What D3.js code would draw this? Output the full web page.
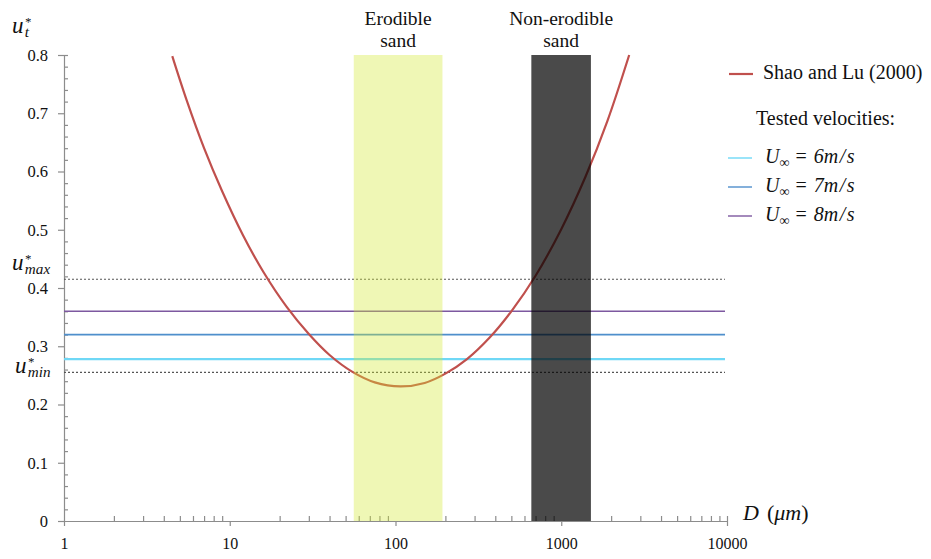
<!DOCTYPE html>
<html>
<head>
<meta charset="utf-8">
<script src="https://cdn.jsdelivr.net/npm/d3@7"></script>
<style>
  body { margin: 0; background: #fff; }
  svg text { font-family: "Liberation Serif", "Times New Roman", serif; fill: #111; }
  .axis path, .axis line { stroke: #8c8c8c; stroke-width: 1.2; }
</style>
</head>
<body>
<div id="chart"></div>
<script>
// Shao and Lu (2000) threshold curve
var diameters = [4.5, 5.5, 7, 9, 12, 16, 22, 30, 40, 55, 75, 107, 150, 200, 270, 370, 500, 700, 1000, 1400, 1900, 2570];
var uStar     = [0.798, 0.722, 0.640, 0.566, 0.491, 0.427, 0.368, 0.321, 0.285, 0.256, 0.238, 0.231, 0.237, 0.253, 0.278, 0.315, 0.360, 0.421, 0.501, 0.591, 0.687, 0.800];

// tested velocities (m/s) and their friction velocity
var velocities = [6, 7, 8];
var velocityU  = [0.278, 0.32, 0.36];
var velocityColors = ["#6fd8f6", "#4f8fcc", "#7d58a0"];

// u*min / u*max limits
var limitNames  = ["min", "max"];
var limitValues = [0.255, 0.415];

// sand bands (µm)
var bandNames = [["Erodible", "sand"], ["Non-erodible", "sand"]];
var bandStart = [56, 660];
var bandEnd   = [192, 1510];

var xMajor = [1, 10, 100, 1000, 10000];
var yMajor = [0, 0.1, 0.2, 0.3, 0.4, 0.5, 0.6, 0.7, 0.8];

var width = 931, height = 559;
var serif = '"Liberation Serif", "Times New Roman", serif';
var svg = d3.select("#chart").append("svg")
    .attr("width", width)
    .attr("height", height)
    .style("font-family", serif);

var x = d3.scaleLog().domain([1, 10000]).range([64, 727]);
var y = d3.scaleLinear().domain([0, 0.8]).range([521, 55]);

// minor tick values
var xMinor = [];
xMajor.slice(0, 4).forEach(function(d) {
    for (var k = 2; k <= 9; k++) xMinor.push(d * k);
});
xMinor.push(10000);
var yMinor = d3.range(0, 41).map(function(i) { return i / 50; })
    .filter(function(v, i) { return i % 5 != 0; });
yMinor.push(0.8);

// ****************** axes ***************************
var xAxis = svg.append("g").attr("class", "axis")
    .attr("transform", "translate(0," + y(0) + ")")
    .call(d3.axisBottom(x).tickValues(xMajor).tickSize(5).tickSizeOuter(0)
        .tickFormat(d3.format("d")));
xAxis.attr("font-family", serif).attr("font-size", 16);
xAxis.selectAll("text").attr("y", 17);

svg.append("g").attr("class", "axis")
    .attr("transform", "translate(0," + y(0) + ")")
    .call(d3.axisTop(x).tickValues(xMinor).tickSize(5).tickFormat(""))
    .select(".domain").remove();

var yAxis = svg.append("g").attr("class", "axis")
    .attr("transform", "translate(" + x(1) + ",0)")
    .call(d3.axisLeft(y).tickValues(yMajor).tickSize(6).tickSizeOuter(0)
        .tickFormat(function(d) { return d === 0 ? "0" : d3.format(".1f")(d); }));
yAxis.attr("font-family", serif).attr("font-size", 16.5);
yAxis.selectAll("text").attr("x", -16);

svg.append("g").attr("class", "axis")
    .attr("transform", "translate(" + x(1) + ",0)")
    .call(d3.axisRight(y).tickValues(yMinor).tickSize(4).tickFormat(""))
    .select(".domain").remove();

// ****************** horizontal lines ***************************
svg.selectAll("line.vel")
    .data(velocityU)
    .enter().append("line")
    .attr("class", "vel")
    .attr("x1", x(1)).attr("x2", 725)
    .attr("y1", function(d) { return y(d); })
    .attr("y2", function(d) { return y(d); })
    .attr("stroke", function(d, i) { return velocityColors[i]; })
    .attr("stroke-width", function(d, i) { return i == 0 ? 2.2 : 1.6; });

svg.selectAll("line.limit")
    .data(limitValues)
    .enter().append("line")
    .attr("class", "limit")
    .attr("x1", x(1)).attr("x2", 725)
    .attr("y1", function(d) { return y(d); })
    .attr("y2", function(d) { return y(d); })
    .attr("stroke", "#555")
    .attr("stroke-width", 1.2)
    .attr("stroke-dasharray", "2,2");

// ****************** curve ***************************
var curvePts = diameters.map(function(d, i) { return [d, uStar[i]]; });
var line = d3.line()
    .x(function(d) { return x(d[0]); })
    .y(function(d) { return y(d[1]); })
    .curve(d3.curveCatmullRom.alpha(0.5));

svg.append("path")
    .datum(curvePts)
    .attr("d", line)
    .attr("fill", "none")
    .attr("stroke", "#c0504d")
    .attr("stroke-width", 2.2);

// ****************** bands (drawn over, translucent) ***************************
var bandFill = ["rgb(212,232,50)", "#000"];
var bandOpacity = [0.36, 0.71];
svg.selectAll("rect.band")
    .data(bandStart)
    .enter().append("rect")
    .attr("class", "band")
    .attr("x", function(d) { return x(d); })
    .attr("width", function(d, i) { return x(bandEnd[i]) - x(d); })
    .attr("y", y(0.8))
    .attr("height", y(0) - y(0.8))
    .attr("fill", function(d, i) { return bandFill[i]; })
    .attr("fill-opacity", function(d, i) { return bandOpacity[i]; });

bandNames.forEach(function(lines, i) {
    var cx = (x(bandStart[i]) + x(bandEnd[i])) / 2;
    lines.forEach(function(t, j) {
        svg.append("text")
            .attr("x", cx)
            .attr("y", 25 + j * 22)
            .attr("text-anchor", "middle")
            .style("font-size", "19.5px")
            .text(t);
    });
});

// ****************** axis titles ***************************
function uLabel(xp, yp, sub, size) {
    var t = svg.append("text").attr("x", xp).attr("y", yp)
        .style("font-size", size + "px").style("font-style", "italic");
    t.append("tspan").text("u");
    t.append("tspan").attr("dx", 1).attr("dy", -size * 0.32)
        .style("font-size", (size * 0.55) + "px").text("*");
    t.append("tspan").attr("dx", -size * 0.26).attr("dy", size * 0.5)
        .style("font-size", (size * 0.66) + "px").text(sub);
}
uLabel(12, 33, "t", 23);
uLabel(12, 270, limitNames[1], 23);
uLabel(15, 373, limitNames[0], 23);

var dl = svg.append("text").attr("x", 743).attr("y", 520).style("font-size", "22px");
dl.append("tspan").style("font-style", "italic").text("D");
dl.append("tspan").attr("dx", 8).text("(");
dl.append("tspan").style("font-style", "italic").text("μm");
dl.append("tspan").text(")");

// ****************** legend ***************************
svg.append("line")
    .attr("x1", 729).attr("x2", 753).attr("y1", 74).attr("y2", 74)
    .attr("stroke", "#c0504d").attr("stroke-width", 2.2);
svg.append("text").attr("x", 763).attr("y", 79)
    .style("font-size", "20px").text("Shao and Lu (2000)");
svg.append("text").attr("x", 756).attr("y", 125)
    .style("font-size", "20px").text("Tested velocities:");

velocities.forEach(function(v, i) {
    var ly = 158 + i * 29;
    svg.append("line")
        .attr("x1", 728).attr("x2", 752).attr("y1", ly).attr("y2", ly)
        .attr("stroke", velocityColors[i]).attr("stroke-width", 1.4);
    var t = svg.append("text").attr("x", 765).attr("y", ly + 5)
        .style("font-size", "20px");
    t.append("tspan").style("font-style", "italic").text("U");
    t.append("tspan").attr("dy", 4).style("font-size", "14px").text("∞");
    t.append("tspan").attr("dy", -4).attr("dx", 6).text("=");
    t.append("tspan").attr("dx", 7).style("font-style", "italic").text(v);
    t.append("tspan").style("font-style", "italic")
        .style("letter-spacing", "1.5px").text("m/s");
});
</script>
</body>
</html>
